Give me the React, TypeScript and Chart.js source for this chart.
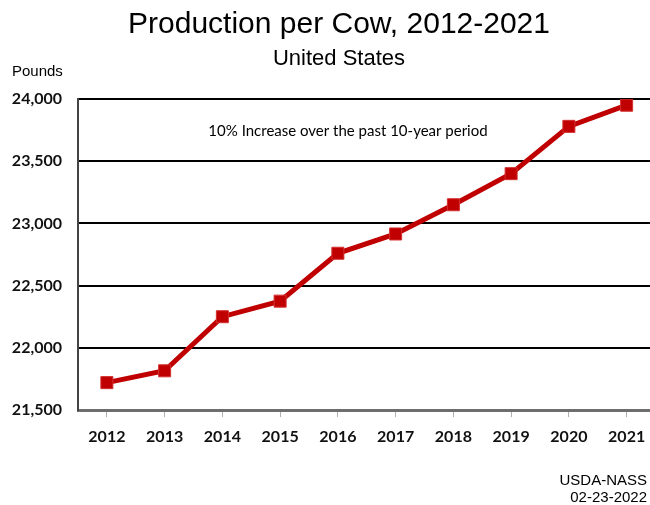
import React, { useEffect, useRef } from "react";
import { Chart, registerables } from "chart.js";

Chart.register(...registerables);

const years = ["2012", "2013", "2014", "2015", "2016", "2017", "2018", "2019", "2020", "2021"];
const pounds = [21720, 21815, 22250, 22375, 22760, 22915, 23150, 23400, 23780, 23950];
const yMin = 21500;
const yMax = 24000;
const yStep = 500;
const titleText = "Production per Cow, 2012-2021";
const subtitleText = "United States";
const unitText = "Pounds";
const noteText = "10% Increase over the past 10-year period";
const sourceLines = ["USDA-NASS", "02-23-2022"];

const textPlugin = {
  id: "textPlugin",
  afterDraw(chart: any) {
    const ctx = chart.ctx;
    ctx.save();
    ctx.fillStyle = "#000";
    ctx.textBaseline = "middle";
    ctx.textAlign = "center";
    ctx.font = "30px 'Liberation Sans', Arial, sans-serif";
    ctx.fillText(titleText, 339, 25);
    ctx.font = "22px 'Liberation Sans', Arial, sans-serif";
    ctx.fillText(subtitleText, 339, 59);
    ctx.textAlign = "left";
    ctx.font = "15px 'Liberation Sans', Arial, sans-serif";
    ctx.fillText(unitText, 12, 72);
    ctx.textAlign = "center";
    ctx.font = "15px Lato, 'Open Sans', sans-serif";
    ctx.fillText(noteText, 348, 131);
    ctx.textAlign = "right";
    ctx.font = "15px 'Liberation Sans', Arial, sans-serif";
    ctx.fillText(sourceLines[0], 647, 481);
    ctx.fillText(sourceLines[1], 647, 498);
    ctx.restore();
  },
};

export default function App() {
  const ref = useRef<HTMLCanvasElement>(null);
  useEffect(() => {
    const canvas = ref.current!;
    const chart = new Chart(canvas, {
      type: "line",
      data: {
        labels: years,
        datasets: [
          {
            data: pounds,
            borderColor: "#C00000",
            backgroundColor: "#C00000",
            borderWidth: 5,
            pointStyle: "rect",
            pointRadius: 8.5,
            pointBorderWidth: 1,
            pointBorderColor: "#D23030",
            pointBackgroundColor: "#C00000",
            tension: 0,
          },
        ],
      },
      options: {
        animation: false,
        responsive: false,
        maintainAspectRatio: false,
        layout: { padding: { top: 99, right: 2, left: 0, bottom: 0 } },
        plugins: {
          legend: { display: false },
          tooltip: { enabled: false },
          title: { display: false },
        },
        scales: {
          x: {
            offset: true,
            afterFit: (s: any) => {
              s.height = 95;
            },
            border: { display: true, color: "#6e6e6e", width: 3 },
            grid: {
              display: true,
              drawOnChartArea: false,
              drawTicks: true,
              tickLength: 7,
              color: "#b0b0b0",
              offset: false,
            },
            ticks: {
              color: "#111",
              padding: 10,
              font: { family: "Lato, 'Open Sans', sans-serif", size: 16, weight: "bold" },
            },
          },
          y: {
            min: yMin,
            max: yMax,
            afterFit: (s: any) => {
              s.width = 78;
            },
            border: { display: true, color: "#444", width: 2 },
            grid: {
              color: "#000",
              lineWidth: 2,
              drawTicks: false,
            },
            ticks: {
              stepSize: yStep,
              color: "#111",
              padding: 16,
              font: { family: "Lato, 'Open Sans', sans-serif", size: 16, weight: "bold" },
              callback: (v: any) => Number(v).toLocaleString("en-US"),
            },
          },
        },
      },
      plugins: [textPlugin],
    });
    return () => chart.destroy();
  }, []);
  return (
    <div style={{ position: "fixed", left: 0, top: 0, width: 650, height: 505, overflow: "hidden", background: "#fff" }}>
      <canvas ref={ref} width={665} height={505} style={{ width: 665, height: 505, display: "block" }} />
    </div>
  );
}
